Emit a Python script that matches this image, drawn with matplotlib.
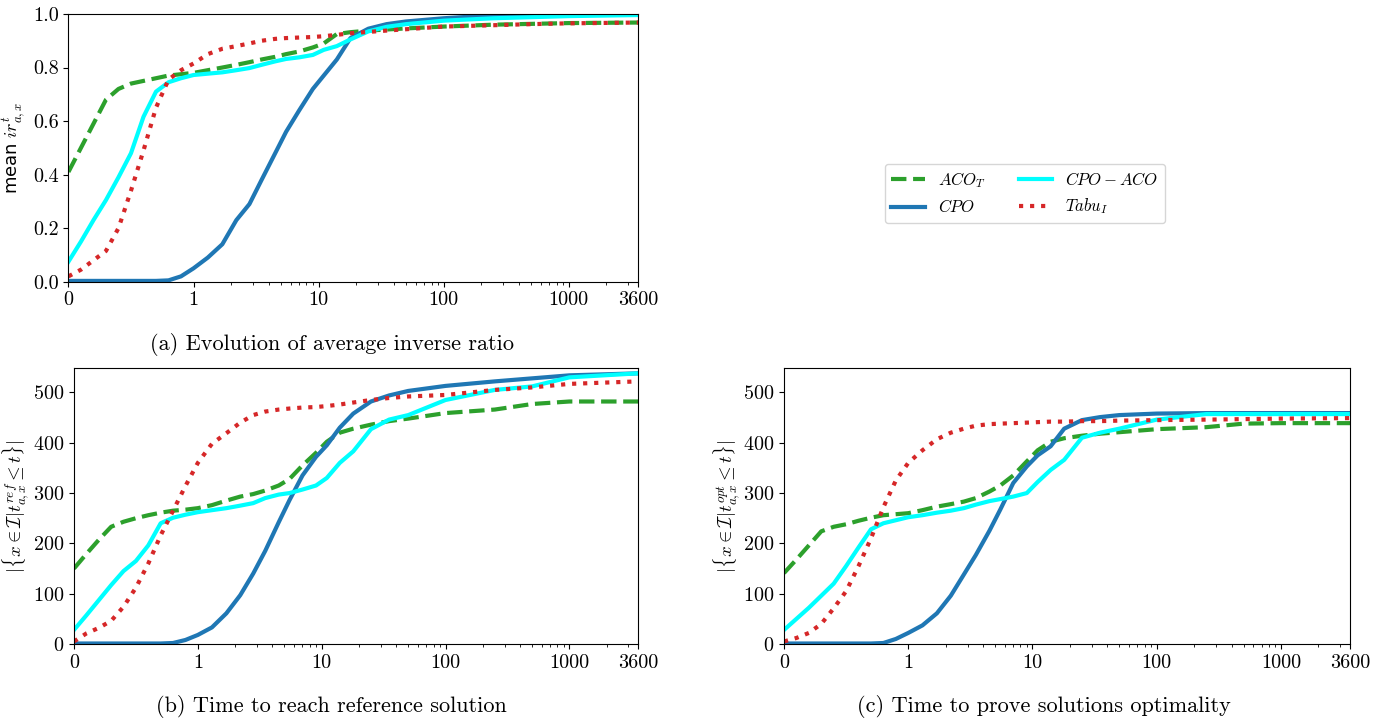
import matplotlib
matplotlib.use("Agg")
import matplotlib.pyplot as plt

plt.rcParams['font.family'] = 'serif'
plt.rcParams['font.serif'] = ['cmr10']
plt.rcParams['mathtext.fontset'] = 'cm'
plt.rcParams['axes.unicode_minus'] = False
plt.rcParams['axes.formatter.use_mathtext'] = True

# time grid (seconds) at which the curves were read
T = [0, 0.1, 0.2, 0.3, 0.4, 0.5, 0.6, 0.7, 0.8, 0.9, 1, 1.3, 1.7, 2.2, 2.8, 3.5,
     4.5, 5.5, 7, 9, 11, 14, 18, 25, 35, 50, 100, 250, 500, 1000, 3600]

# (a) mean inverse ratio
a_aco = [0.41, 0.50, 0.59, 0.68, 0.72, 0.74, 0.75, 0.76, 0.77, 0.775, 0.78, 0.79, 0.80,
         0.81, 0.82, 0.83, 0.84, 0.85, 0.86, 0.875, 0.89, 0.925, 0.932, 0.938, 0.942,
         0.946, 0.953, 0.96, 0.963, 0.966, 0.968]
a_cpo = [0.003, 0.003, 0.003, 0.003, 0.003, 0.003, 0.003, 0.003, 0.005, 0.02, 0.05, 0.09,
         0.14, 0.23, 0.29, 0.38, 0.48, 0.56, 0.64, 0.72, 0.77, 0.83, 0.91, 0.945, 0.962,
         0.972, 0.984, 0.995, 0.998, 0.999, 1.0]
a_cpoaco = [0.075, 0.15, 0.23, 0.305, 0.39, 0.48, 0.616, 0.71, 0.745, 0.76, 0.772, 0.777,
            0.782, 0.79, 0.798, 0.81, 0.823, 0.832, 0.838, 0.847, 0.866, 0.88, 0.905, 0.935,
            0.952, 0.962, 0.975, 0.984, 0.988, 0.992, 0.996]
a_tabu = [0.02, 0.045, 0.08, 0.115, 0.2, 0.34, 0.49, 0.65, 0.755, 0.79, 0.815, 0.85, 0.87,
          0.88, 0.89, 0.90, 0.907, 0.91, 0.912, 0.914, 0.917, 0.922, 0.928, 0.933, 0.938,
          0.943, 0.953, 0.958, 0.962, 0.965, 0.968]

# (b) instances reaching reference solution
b_aco = [150, 179, 207, 233, 243, 250, 256, 261, 265, 267, 270, 276, 285, 293, 298, 305,
         315, 328, 355, 380, 402, 420, 428, 436, 443, 448, 459, 466, 477, 482, 482]
b_cpo = [1, 1, 1, 1, 1, 1, 1, 1, 2, 8, 18, 33, 61, 97, 140, 185, 242, 286, 335, 372, 395,
         430, 458, 482, 494, 503, 513, 522, 528, 534, 538]
b_cpoaco = [28, 57, 87, 117, 145, 165, 196, 240, 251, 257, 262, 266, 270, 275, 280, 290,
            297, 300, 307, 315, 330, 360, 383, 427, 446, 455, 485, 505, 512, 530, 538]
b_tabu = [5, 21, 32, 46, 74, 112, 160, 216, 265, 314, 360, 398, 419, 440, 455, 462, 466,
          468, 470, 471, 473, 476, 480, 485, 489, 492, 495, 505, 510, 517, 522]

# (c) instances proven optimal
c_aco = [141, 168, 196, 224, 233, 238, 245, 251, 256, 258, 260, 266, 273, 278, 283, 290,
         303, 315, 335, 363, 385, 402, 409, 414, 418, 421, 427, 431, 438, 439, 439]
c_cpo = [1, 1, 1, 1, 1, 1, 1, 1, 2, 10, 22, 37, 61, 96, 138, 177, 225, 267, 320, 353, 375,
         393, 428, 445, 451, 455, 458, 459, 459, 459, 459]
c_cpoaco = [28, 50, 72, 96, 120, 155, 192, 228, 240, 246, 252, 256, 261, 265, 270, 277,
            284, 288, 293, 300, 322, 346, 366, 410, 420, 428, 446, 457, 457, 457, 457]
c_tabu = [5, 12, 22, 40, 71, 105, 155, 210, 272, 325, 360, 385, 407, 420, 428, 434, 437,
          438, 439, 440, 441, 442, 442, 443, 443, 444, 445, 446, 447, 448, 449]

labels = [r'$ACO_T$', r'$CPO$', r'$CPO-ACO$', r'$Tabu_I$']
colors = ['#2ca02c', '#1f77b4', '#00ffff', '#d62728']
styles = ['--', '-', '-', ':']

xticks = [0, 1, 10, 100, 1000, 3600]
xticklabels = ['0', '1', '10', '100', '1000', '3600']
minor = [2, 3, 4, 5, 6, 7, 8, 9, 20, 30, 40, 50, 60, 70, 80, 90,
         200, 300, 400, 500, 600, 700, 800, 900, 2000, 3000]

fig = plt.figure(figsize=(13.83, 7.24), dpi=100)
ax_a = fig.add_axes([0.0495, 0.6109, 0.412, 0.3698])
ax_b = fig.add_axes([0.0535, 0.1105, 0.408, 0.3808])
ax_c = fig.add_axes([0.5669, 0.1105, 0.4093, 0.3808])


def draw(ax, series):
    lines = []
    for y, lab, col, ls in zip(series, labels, colors, styles):
        ln, = ax.plot(T, y, ls, color=col, lw=3, label=lab)
        lines.append(ln)
    ax.set_xscale('symlog', linthresh=1, linscale=0.9)
    ax.set_xlim(0, 3600)
    ax.set_xticks(xticks)
    ax.set_xticklabels(xticklabels)
    ax.set_xticks(minor, minor=True)
    ax.tick_params(labelsize=14.5)
    return lines


handles = draw(ax_a, [a_aco, a_cpo, a_cpoaco, a_tabu])
ax_a.set_ylim(0, 1.0)
ax_a.set_yticks([0.0, 0.2, 0.4, 0.6, 0.8, 1.0])
ax_a.set_yticklabels(['0.0', '0.2', '0.4', '0.6', '0.8', '1.0'])
ax_a.set_ylabel(r'mean $ir^t_{a,x}$', family='DejaVu Sans', fontsize=13)

draw(ax_b, [b_aco, b_cpo, b_cpoaco, b_tabu])
draw(ax_c, [c_aco, c_cpo, c_cpoaco, c_tabu])
for ax, sup in [(ax_b, 'ref'), (ax_c, 'opt')]:
    ax.set_ylim(0, 548)
    ax.set_yticks([0, 100, 200, 300, 400, 500])
    ax.set_ylabel(r'$|\{x \in \mathcal{I} | t^{%s}_{a,x} \leq t\}|$' % sup,
                  fontsize=13.5, labelpad=1)

fig.legend(handles=handles, ncol=2, loc='center', bbox_to_anchor=(0.741, 0.733),
           fontsize=12)

fig.text(0.2404, 0.5235, '(a) Evolution of average inverse ratio', ha='center',
         va='center', fontsize=16)
fig.text(0.2393, 0.0235, '(b) Time to reach reference solution', ha='center',
         va='center', fontsize=16)
fig.text(0.7549, 0.0235, '(c) Time to prove solutions optimality', ha='center',
         va='center', fontsize=16)

fig.savefig('out.png', dpi=100)
